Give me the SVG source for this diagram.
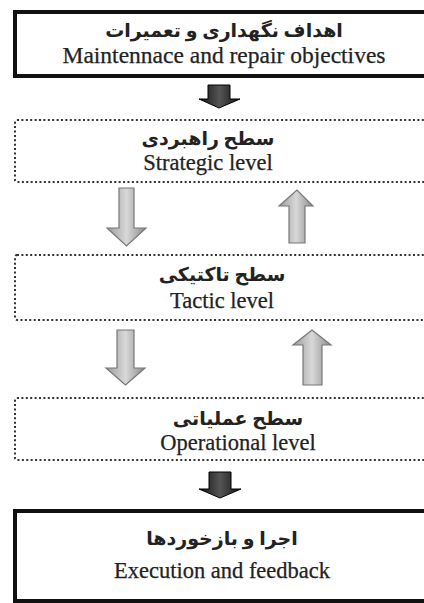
<svg xmlns="http://www.w3.org/2000/svg" width="424" height="603" viewBox="0 0 424 603">
<defs>
<linearGradient id="gGray" x1="0" y1="0" x2="1" y2="0">
<stop offset="0" stop-color="#9a9a9a"/>
<stop offset="0.5" stop-color="#d8d8d8"/>
<stop offset="1" stop-color="#8a8a8a"/>
</linearGradient>
<linearGradient id="gDark" x1="0" y1="0" x2="1" y2="0">
<stop offset="0" stop-color="#111"/>
<stop offset="0.5" stop-color="#555"/>
<stop offset="1" stop-color="#111"/>
</linearGradient>
</defs>
<style>
.solid{fill:#fff;stroke:#111;stroke-width:4}
.dotted{fill:#fff;stroke:#333;stroke-width:2;stroke-dasharray:2 2.4}
.en{font-family:"Liberation Serif","Times New Roman",serif;font-size:22.5px;fill:#222;stroke:#222;stroke-width:0.25;text-anchor:middle}
.fa{font-family:"Liberation Serif","DejaVu Sans",serif;font-size:19px;font-weight:bold;fill:#222;text-anchor:middle}
.ga{fill:url(#gGray);stroke:#777;stroke-width:1.2}
.da{fill:url(#gDark);stroke:#000;stroke-width:1}
</style>
<rect width="424" height="603" fill="#fff"/>
<g id="objectives">
<rect class="solid" x="15" y="12" width="420" height="64"/>
<text class="fa" x="224" y="37" direction="rtl">اهداف نگهداری و تعمیرات</text>
<text class="en" x="224" y="63" style="font-size:23.5px">Maintennace and repair objectives</text>
</g>
<g id="strategic">
<rect class="dotted" x="15" y="120" width="420" height="62" rx="2"/>
<text class="fa" x="208" y="145" direction="rtl">سطح راهبردی</text>
<text class="en" x="208" y="170">Strategic level</text>
</g>
<g id="tactic">
<rect class="dotted" x="15" y="255" width="420" height="65" rx="2"/>
<text class="fa" x="222" y="281" direction="rtl">سطح تاکتیکی</text>
<text class="en" x="222" y="308">Tactic level</text>
</g>
<g id="operational">
<rect class="dotted" x="15" y="398" width="420" height="62" rx="2"/>
<text class="fa" x="238" y="425" direction="rtl">سطح عملیاتی</text>
<text class="en" x="238" y="450">Operational level</text>
</g>
<g id="execution">
<rect class="solid" x="15" y="511" width="420" height="90"/>
<text class="fa" x="222" y="545" direction="rtl">اجرا و بازخوردها</text>
<text class="en" x="222" y="578">Execution and feedback</text>
</g>
<g id="connectors">
<path class="da" d="M208,85 H230 V99 H240 L219,108 L199,99 H208 Z"/>
<path class="ga" d="M119,188 H134 V228 H146 L126.5,246 L107,228 H119 Z"/>
<path class="ga" d="M289,243 H305 V206 H313 L297,190 L279,206 H289 Z"/>
<path class="ga" d="M117,330 H134 V368 H145 L125.5,385 L106,368 H117 Z"/>
<path class="ga" d="M303,385 H322 V345 H331 L312,330 L293,345 H303 Z"/>
<path class="da" d="M209,472 H231 V489 H241 L220,498 L199,489 H209 Z"/>
</g>
</svg>
